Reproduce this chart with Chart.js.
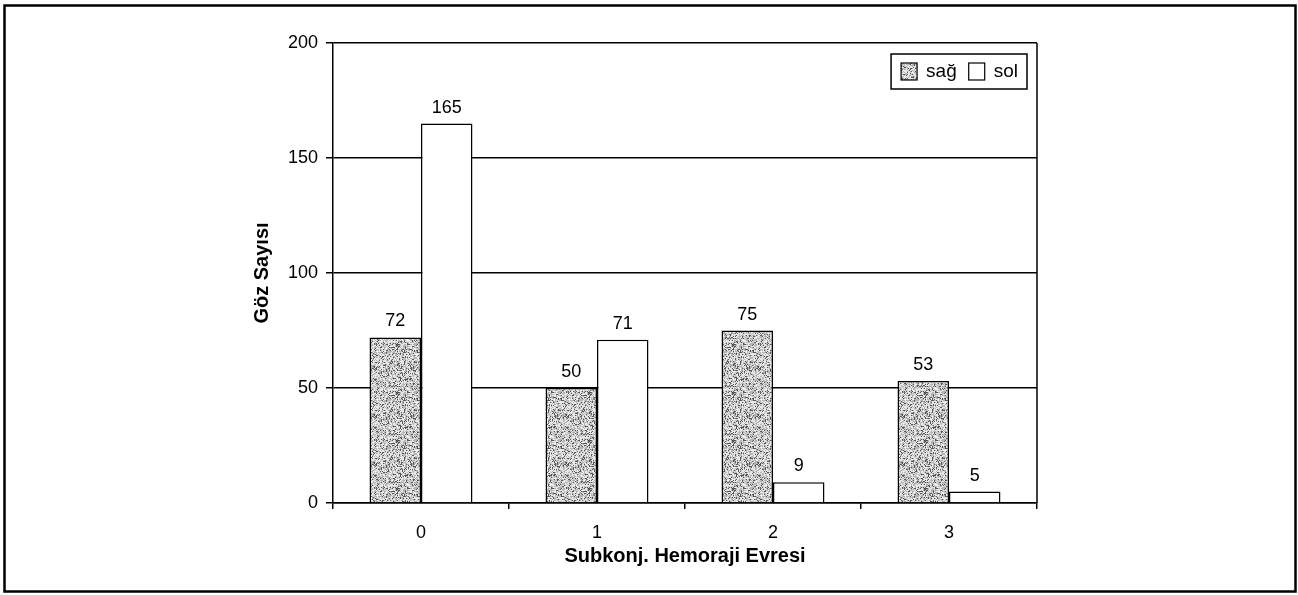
<!DOCTYPE html>
<html>
<head>
<meta charset="utf-8">
<script src="https://cdn.jsdelivr.net/npm/chart.js@4/dist/chart.umd.min.js"></script>
<style>
  html, body { margin: 0; padding: 0; background: #fff; }
  #wrap { width: 1298px; height: 595px; }
</style>
</head>
<body>
<div id="wrap"><canvas id="c" width="1298" height="595"></canvas></div>
<script>
// ---- data ----
const categories = ['0', '1', '2', '3'];
const sagValues = [72, 50, 75, 53];
const solValues = [165, 71, 9, 5];
const seriesLabels = ['sağ', 'sol'];
const yTicks = [0, 50, 100, 150, 200];
const xTitle = 'Subkonj. Hemoraji Evresi';
const yTitle = 'Göz Sayısı';

const FONT = '"Liberation Sans", Arial, Helvetica, sans-serif';

// deterministic stipple texture for the grey bars
function makeTexture() {
  const n = 48;
  const c = document.createElement('canvas');
  c.width = n; c.height = n;
  const g = c.getContext('2d');
  const img = g.createImageData(n, n);
  for (let y = 0; y < n; y++) {
    for (let x = 0; x < n; x++) {
      let h = Math.imul(x + 17, 374761393) ^ Math.imul(y + 31, 668265263);
      h = Math.imul(h ^ (h >>> 13), 1274126177);
      h = (h ^ (h >>> 16)) >>> 0;
      const v = h / 4294967296;
      const c0 = v < 0.17 ? 85 : (v < 0.55 ? 180 : 232);
      const i = (y * n + x) * 4;
      img.data[i] = c0; img.data[i + 1] = c0; img.data[i + 2] = c0; img.data[i + 3] = 255;
    }
  }
  g.putImageData(img, 0, 0);
  return document.getElementById('c').getContext('2d').createPattern(c, 'repeat');
}
const greyFill = makeTexture();

const framePlugin = {
  id: 'frame',
  beforeDraw(chart) {
    const ctx = chart.ctx;
    ctx.save();
    ctx.fillStyle = '#fff';
    ctx.fillRect(0, 0, chart.width, chart.height);
    ctx.strokeStyle = '#000';
    ctx.lineWidth = 2.5;
    ctx.strokeRect(4.5, 5.5, chart.width - 7, chart.height - 9);
    ctx.restore();
  },
  afterDatasetsDraw(chart) {
    const ctx = chart.ctx;
    const a = chart.chartArea;
    ctx.save();
    // right frame line of plot
    ctx.strokeStyle = '#000';
    ctx.lineWidth = 1.5;
    ctx.beginPath();
    ctx.moveTo(a.right, a.top);
    ctx.lineTo(a.right, a.bottom);
    ctx.stroke();
    // value labels
    ctx.fillStyle = '#000';
    ctx.font = '18px ' + FONT;
    ctx.textAlign = 'center';
    ctx.textBaseline = 'alphabetic';
    chart.data.datasets.forEach((ds, di) => {
      const meta = chart.getDatasetMeta(di);
      meta.data.forEach((el, i) => {
        ctx.fillText(String(ds.data[i]), el.x, el.y - 11);
      });
    });
    // legend box
    ctx.font = '19px ' + FONT;
    ctx.textAlign = 'left';
    ctx.textBaseline = 'middle';
    const sw = 16, sh = 17, gapSwatch = 9, gapItem = 12, padL = 10, padR = 9;
    let w = padL;
    chart.data.datasets.forEach((ds, di) => {
      w += sw + gapSwatch + ctx.measureText(ds.label).width + (di < chart.data.datasets.length - 1 ? gapItem : 0);
    });
    w += padR;
    const bh = 35;
    const bx = a.right - 10 - w;
    const by = a.top + 11;
    ctx.fillStyle = '#fff';
    ctx.fillRect(bx, by, w, bh);
    ctx.lineWidth = 1.5;
    ctx.strokeStyle = '#000';
    ctx.strokeRect(bx, by, w, bh);
    let x = bx + padL;
    const cy = by + bh / 2;
    chart.data.datasets.forEach((ds, di) => {
      ctx.fillStyle = ds.backgroundColor;
      ctx.fillRect(x, cy - sh / 2, sw, sh);
      ctx.lineWidth = 1.2;
      ctx.strokeRect(x, cy - sh / 2, sw, sh);
      x += sw + gapSwatch;
      ctx.fillStyle = '#000';
      ctx.fillText(ds.label, x, cy);
      x += ctx.measureText(ds.label).width + gapItem;
    });
    ctx.restore();
  }
};

new Chart(document.getElementById('c'), {
  type: 'bar',
  data: {
    labels: categories,
    datasets: [
      { label: seriesLabels[0], data: sagValues, backgroundColor: greyFill, borderColor: '#000', borderWidth: 1.5, borderSkipped: 'start' },
      { label: seriesLabels[1], data: solValues, backgroundColor: '#ffffff', borderColor: '#000', borderWidth: 1.5, borderSkipped: 'start' }
    ]
  },
  options: {
    responsive: false,
    devicePixelRatio: 1,
    animation: false,
    layout: { padding: { left: 250, top: 43, right: 261, bottom: 22 } },
    plugins: { legend: { display: false }, tooltip: { enabled: false } },
    datasets: { bar: { categoryPercentage: 0.585, barPercentage: 1.0 } },
    scales: {
      x: {
        offset: true,
        grid: { display: true, drawOnChartArea: false, drawTicks: true, tickLength: 6, color: '#000', lineWidth: 1.5, offset: true },
        border: { display: true, color: '#000', width: 1.5 },
        ticks: { color: '#000', font: { family: FONT, size: 18 }, padding: 13 },
        title: { display: true, text: xTitle, color: '#000', font: { family: FONT, size: 20, weight: 'bold' }, padding: { top: 0, bottom: 5 } },
        afterFit(scale) { scale.height = 70; }
      },
      y: {
        min: 0, max: 200,
        afterBuildTicks(scale) { scale.ticks = yTicks.map(v => ({ value: v })); },
        grid: { display: true, drawOnChartArea: true, drawTicks: true, tickLength: 7, color: '#000', lineWidth: 1.5 },
        border: { display: true, color: '#000', width: 1.5 },
        ticks: { color: '#000', font: { family: FONT, size: 18 }, padding: 8 },
        title: { display: true, text: yTitle, color: '#000', font: { family: FONT, size: 20, weight: 'bold' }, padding: { top: 0, bottom: 0 } },
        afterFit(scale) { scale.width = 83; }
      }
    }
  },
  plugins: [framePlugin]
});
</script>
</body>
</html>
